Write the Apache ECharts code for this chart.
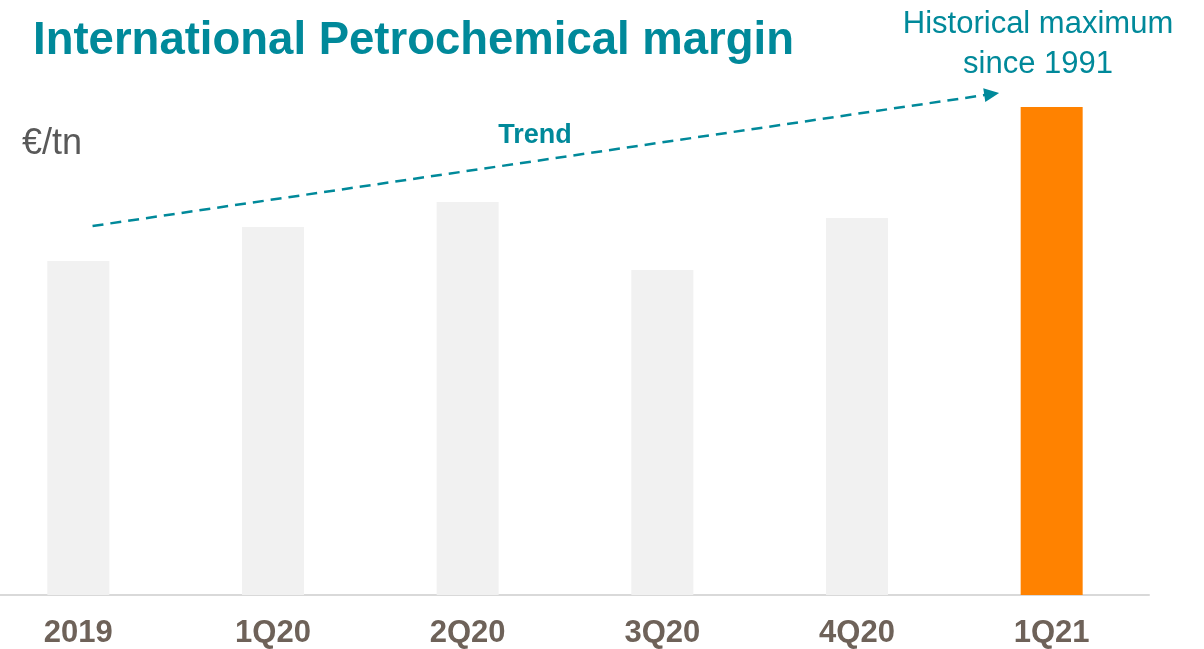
<!DOCTYPE html>
<html>
<head>
<meta charset="utf-8">
<script src="https://cdn.jsdelivr.net/npm/echarts@6/dist/echarts.min.js"></script>
<style>
  html, body { margin: 0; padding: 0; background: #ffffff; }
  #chart { width: 1204px; height: 649px; }
</style>
</head>
<body>
<div id="chart"></div>
<script>
// Data (bar heights relative, €/tn index)
const categories = ['2019', '1Q20', '2Q20', '3Q20', '4Q20', '1Q21'];
const margins = [334, 368, 393, 325, 377, 488];
const highlightIndex = 5;
// Trend arrow: [category position, value]
const trendStart = [0.073, 369];
const trendEnd = [4.692, 501];

const TEAL = '#00899A';
const FONT = '"Liberation Sans", Arial, sans-serif';

const chart = echarts.init(document.getElementById('chart'), null, { renderer: 'canvas' });

const option = {
  backgroundColor: '#ffffff',
  animation: false,
  title: {
    text: 'International Petrochemical margin',
    left: 33,
    top: 18,
    padding: 0,
    textStyle: { color: TEAL, fontSize: 45.5, fontWeight: 'bold', fontFamily: FONT }
  },
  grid: {
    left: -19,
    right: 55,
    top: 45,
    bottom: 54,
    containLabel: false,
    outerBoundsMode: 'none'
  },
  xAxis: [
    {
      type: 'category',
      data: categories,
      axisLine: { show: true, lineStyle: { color: '#d9d9d9', width: 2 } },
      axisTick: { show: false },
      axisLabel: {
        color: '#6E6259',
        fontSize: 31,
        fontWeight: 'bold',
        fontFamily: FONT,
        margin: 23
      },
      splitLine: { show: false }
    },
    {
      type: 'value',
      min: -0.5,
      max: 5.5,
      show: false,
      position: 'bottom'
    }
  ],
  yAxis: {
    type: 'value',
    min: 0,
    max: 550,
    show: false,
    splitLine: { show: false }
  },
  series: [
    {
      type: 'bar',
      xAxisIndex: 0,
      barWidth: 62,
      data: margins.map((v, i) => ({
        value: v,
        itemStyle: { color: i === highlightIndex ? '#FF8200' : '#F1F1F1' }
      }))
    },
    {
      type: 'line',
      xAxisIndex: 1,
      data: [trendStart, trendEnd],
      showSymbol: false,
      symbol: 'none',
      lineStyle: { opacity: 0 },
      silent: true,
      markLine: {
        silent: true,
        symbol: ['none', 'triangle'],
        symbolSize: [14, 15],
        label: { show: false },
        lineStyle: { color: TEAL, width: 2.5, type: [11, 7] },
        data: [[{ coord: trendStart }, { coord: trendEnd }]]
      }
    }
  ],
  graphic: [
    {
      type: 'text',
      x: 22,
      y: 144,
      style: {
        text: '€/tn',
        font: '36px ' + FONT,
        fill: '#595959',
        textAlign: 'left',
        textVerticalAlign: 'middle'
      }
    },
    {
      type: 'text',
      x: 535,
      y: 136,
      style: {
        text: 'Trend',
        font: 'bold 27px ' + FONT,
        fill: TEAL,
        textAlign: 'center',
        textVerticalAlign: 'middle'
      }
    },
    {
      type: 'text',
      x: 1038,
      y: 44,
      style: {
        text: 'Historical maximum\nsince 1991',
        font: '31px ' + FONT,
        lineHeight: 40,
        fill: TEAL,
        textAlign: 'center',
        textVerticalAlign: 'middle'
      }
    }
  ]
};

chart.setOption(option);
</script>
</body>
</html>
